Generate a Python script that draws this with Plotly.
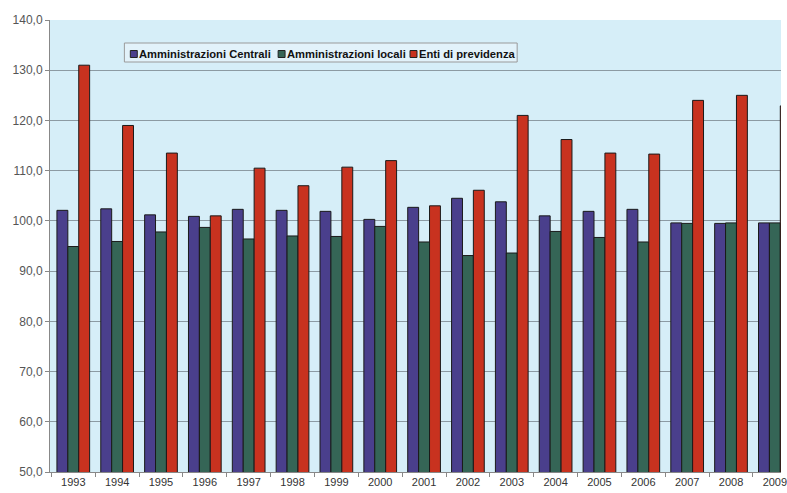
import plotly.graph_objects as go

years = ["1993", "1994", "1995", "1996", "1997", "1998", "1999", "2000", "2001",
         "2002", "2003", "2004", "2005", "2006", "2007", "2008", "2009"]
centrali = [102.1, 102.4, 101.2, 100.9, 102.3, 102.1, 101.9, 100.3, 102.7,
            104.5, 103.8, 101.0, 101.9, 102.3, 99.6, 99.5, 99.6]
locali = [94.9, 95.9, 97.8, 98.7, 96.4, 97.0, 96.9, 98.9, 95.8,
          93.1, 93.6, 97.9, 96.7, 95.8, 99.5, 99.6, 99.6]
previdenza = [131.0, 119.0, 113.5, 101.0, 110.5, 107.0, 110.7, 112.0, 103.0,
              106.1, 121.0, 116.2, 113.5, 113.3, 124.0, 125.0, 122.9]
y_ticks = [50, 60, 70, 80, 90, 100, 110, 120, 130, 140]

series = [
    ("Amministrazioni Centrali", centrali, "#4a3f8c"),
    ("Amministrazioni locali", locali, "#356556"),
    ("Enti di previdenza", previdenza, "#c8321f"),
]

W, H = 787, 493
ML, MR, MT, MB = 50, 0, 20, 21
PW, PH = W - ML - MR, H - MT - MB


def px(x):
    return (x - ML) / PW


def py(y):
    return 1 - (y - MT) / PH


fig = go.Figure()
for name, vals, col in series:
    fig.add_trace(go.Bar(
        x=years, y=vals, name=name,
        marker=dict(color=col, line=dict(color="#1a1a1a", width=1)),
    ))

shapes = [dict(type="rect", xref="paper", yref="paper",
               x0=px(125), x1=px(521), y0=py(62), y1=py(43),
               fillcolor="#e2f2fa", line=dict(color="#9a9a9a", width=1))]
annotations = []
legend_pos = [(131, 138), (280, 287), (413, 420)]
for (sx, tx), (name, _, col) in zip(legend_pos, series):
    shapes.append(dict(type="rect", xref="paper", yref="paper",
                       x0=px(sx), x1=px(sx + 7), y0=py(57.5), y1=py(50.5),
                       fillcolor=col, line=dict(color="#222", width=1)))
    annotations.append(dict(xref="paper", yref="paper", x=px(tx), y=py(54),
                            xanchor="left", yanchor="middle", showarrow=False,
                            text=name,
                            font=dict(family="Liberation Sans, Arial", size=11.2,
                                      color="#111", weight="bold")))

fig.update_layout(
    width=W, height=H,
    margin=dict(l=ML, r=MR, t=MT, b=MB),
    paper_bgcolor="white",
    plot_bgcolor="#d6eef8",
    barmode="group",
    bargap=0.254,
    bargroupgap=0,
    separators=",.",
    font=dict(family="Liberation Sans, Arial", size=11, color="#222"),
    showlegend=False,
    shapes=shapes,
    annotations=annotations,
    xaxis=dict(
        type="category",
        range=[-0.531, 16.14],
        showgrid=False,
        showline=True, linecolor="#888", linewidth=1,
        ticks="outside", ticklen=4, tickcolor="#888",
        tickson="boundaries",
        tickfont=dict(size=11, color="#333"),
    ),
    yaxis=dict(
        range=[50, 140],
        tickvals=y_ticks,
        tickformat=".1f",
        showgrid=True, gridcolor="#8c9aa3", gridwidth=1,
        showline=True, linecolor="#888", linewidth=1,
        ticks="outside", ticklen=4, tickcolor="#888",
        tickfont=dict(size=12, color="#555"),
        zeroline=False,
    ),
)

fig.write_html("out.html")
